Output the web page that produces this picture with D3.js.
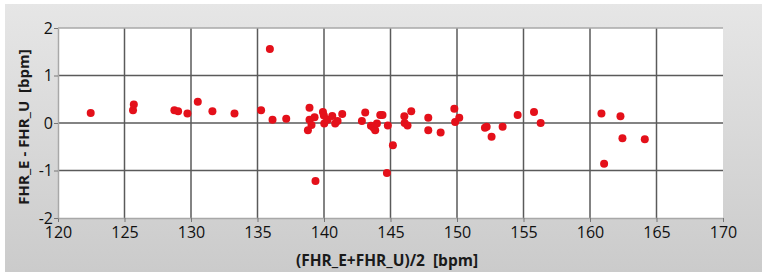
<!DOCTYPE html>
<html>
<head>
<meta charset="utf-8">
<script src="https://cdn.jsdelivr.net/npm/d3@7"></script>
<style>
  body { margin: 0; background: #fff; }
  svg { display: block; }
</style>
</head>
<body>
<div id="chart"></div>
<script>
const meanHr = [
  122.46, 125.64, 125.7, 128.75, 129.03, 129.73, 130.51, 131.61, 133.27,
  135.27, 135.93, 136.13, 137.16, 138.79, 138.91, 138.91, 139.06, 139.29, 139.36,
  139.92, 139.99, 140.02, 140.27, 140.62, 140.84, 141.02, 141.37,
  142.85, 143.1, 143.53, 143.73, 143.85, 143.98, 144.23, 144.4, 144.73, 144.8, 145.18,
  146.04, 146.06, 146.28, 146.56, 147.84, 147.84, 148.77, 149.8, 149.86, 150.17,
  152.1, 152.23, 152.6, 153.43, 154.56, 155.79, 156.29,
  160.86, 161.06, 162.29, 162.44, 164.12
]
const diffHr = [
  0.21, 0.27, 0.39, 0.27, 0.25, 0.2, 0.45, 0.25, 0.2,
  0.27, 1.56, 0.07, 0.09, -0.15, 0.32, 0.07, -0.04, 0.12, -1.22,
  0.23, 0.16, -0.01, 0.07, 0.15, -0.01, 0.04, 0.19,
  0.04, 0.22, -0.06, -0.1, -0.15, -0.01, 0.17, 0.17, -1.05, -0.05, -0.47,
  0.14, 0.0, -0.05, 0.25, 0.11, -0.15, -0.2, 0.3, 0.02, 0.11,
  -0.1, -0.08, -0.29, -0.08, 0.17, 0.23, 0.0,
  0.2, -0.86, 0.14, -0.32, -0.34
]
const xTicks = [120, 125, 130, 135, 140, 145, 150, 155, 160, 165, 170]
const yTicks = [-2, -1, 0, 1, 2]

const W = 767, H = 278
const plot = { left: 58, right: 723, top: 28, bottom: 218 }
const font = "'Open Sans', 'Noto Sans', sans-serif"

const svg = d3.select('#chart').append('svg').attr('width', W).attr('height', H)

const grad = svg.append('defs').append('linearGradient')
  .attr('id', 'bg').attr('x1', 0).attr('y1', 0).attr('x2', 0).attr('y2', 1)
grad.append('stop').attr('offset', '0%').attr('stop-color', '#e6e6e6')
grad.append('stop').attr('offset', '100%').attr('stop-color', '#cbcbcb')

svg.append('rect')
  .attr('x', 5).attr('y', 4).attr('width', 757).attr('height', 268)
  .attr('fill', 'url(#bg)')

const x = d3.scaleLinear().domain([120, 170]).range([plot.left, plot.right])
const y = d3.scaleLinear().domain([-2, 2]).range([plot.bottom, plot.top])

svg.append('rect')
  .attr('x', x(120)).attr('y', y(2))
  .attr('width', x(170) - x(120)).attr('height', y(-2) - y(2))
  .attr('fill', '#fff')

// grid
const grid = svg.append('g').attr('stroke', '#5a5a5a').attr('stroke-width', 1.5)
grid.selectAll('.vx').data(xTicks.filter((d) => d > 120 && d < 170)).join('line')
  .attr('x1', (d) => x(d)).attr('x2', (d) => x(d))
  .attr('y1', y(2)).attr('y2', y(-2))
grid.selectAll('.hy').data(yTicks.filter((d) => d > -2 && d < 2)).join('line')
  .attr('x1', x(120)).attr('x2', x(170))
  .attr('y1', (d) => y(d)).attr('y2', (d) => y(d))

// top border
svg.append('line')
  .attr('x1', x(120)).attr('x2', x(170)).attr('y1', y(2)).attr('y2', y(2))
  .attr('stroke', '#a8a8a8').attr('stroke-width', 1.5)

const xAxis = d3.axisBottom(x).tickValues(xTicks).tickFormat((d) => String(d))
  .tickSize(4).tickSizeOuter(0).tickPadding(5)
const yAxis = d3.axisLeft(y).tickValues(yTicks).tickFormat((d) => String(d))
  .tickSize(4).tickSizeOuter(0).tickPadding(1)

const styleAxis = (g) => {
  g.select('.domain').attr('stroke', '#a8a8a8').attr('stroke-width', 1.5)
  g.selectAll('.tick line').attr('stroke', '#777')
  g.selectAll('.tick text').attr('fill', '#111').attr('font-family', font).attr('font-size', 16)
}

svg.append('g')
  .attr('transform', `translate(0, ${y(-2)})`)
  .call(xAxis)
  .call(styleAxis)

svg.append('g')
  .attr('transform', `translate(${x(120)}, 0)`)
  .call(yAxis)
  .call(styleAxis)

// points
svg.append('g')
  .selectAll('circle')
  .data(meanHr.map((d, i) => [d, diffHr[i]]))
  .join('circle')
  .attr('cx', (d) => x(d[0]))
  .attr('cy', (d) => y(d[1]))
  .attr('r', 4)
  .attr('fill', '#e4101a')

// titles
svg.append('text')
  .attr('x', 387).attr('y', 266)
  .attr('text-anchor', 'middle')
  .attr('font-family', font)
  .attr('font-weight', 'bold').attr('font-size', 15.5).attr('fill', '#1a1a1a')
  .style('white-space', 'pre')
  .text('(FHR_E+FHR_U)/2  [bpm]')

svg.append('text')
  .attr('transform', 'translate(29, 127) rotate(-90)')
  .attr('text-anchor', 'middle')
  .attr('font-family', font)
  .attr('font-weight', 'bold').attr('font-size', 15).attr('fill', '#1a1a1a')
  .style('white-space', 'pre')
  .text('FHR_E - FHR_U  [bpm]')
</script>
</body>
</html>
